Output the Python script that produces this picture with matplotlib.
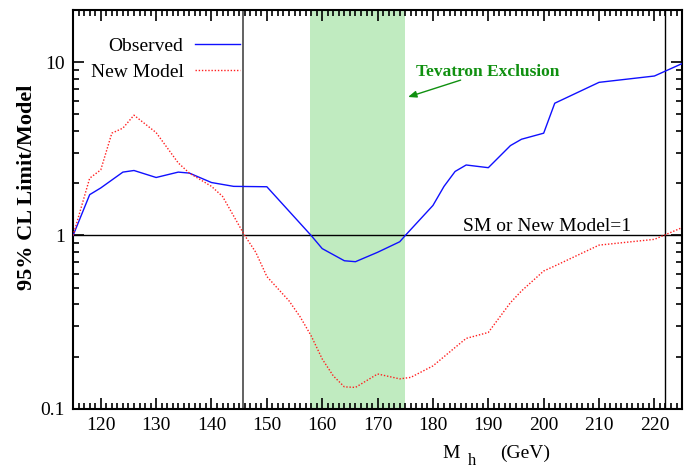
import matplotlib
matplotlib.use("Agg")
import matplotlib.pyplot as plt
from matplotlib.ticker import MultipleLocator, LogLocator, FixedLocator, FixedFormatter, NullFormatter

# observed limit / model
obs_m = [115, 118, 120, 124, 126, 130, 134, 136, 140, 144, 150, 158, 160, 164, 166, 170, 174, 175,
         180, 182, 184, 186, 190, 194, 196, 200, 202, 210, 220, 225]
obs_r = [1.0, 1.72, 1.88, 2.32, 2.37, 2.16, 2.32, 2.29, 2.02, 1.92, 1.91, 1.0, 0.84, 0.715, 0.706, 0.80, 0.92, 1.0,
         1.49, 1.92, 2.34, 2.55, 2.46, 3.30, 3.59, 3.89, 5.79, 7.64, 8.31, 9.8]
# new model
new_m = [115, 118, 120, 122, 124, 126, 130, 134, 136, 140, 142, 146, 148, 150, 154, 156, 158, 160, 162, 164, 166,
         170, 174, 176, 180, 184, 186, 190, 194, 196, 200, 202, 210, 220, 225]
new_r = [1.0, 2.14, 2.39, 3.89, 4.16, 4.94, 3.92, 2.62, 2.29, 1.92, 1.68, 1.0, 0.80, 0.58, 0.42, 0.34, 0.264, 0.194,
         0.155, 0.134, 0.133, 0.159, 0.149, 0.152, 0.177, 0.226, 0.255, 0.276, 0.41, 0.479, 0.624, 0.667, 0.88,
         0.95, 1.11]
excl = (157.8, 174.9)
cross_m = [145.7, 222.0]

plt.rcParams["font.family"] = ["Liberation Serif", "DejaVu Serif"]
fig = plt.figure(figsize=(6.96, 4.70), dpi=100)
ax = fig.add_axes([0.105, 0.130, 0.875, 0.849])

ax.axvspan(*excl, color="#c0ebc0", lw=0, zorder=0)
ax.axhline(1, color="black", lw=1, zorder=1)
ax.axvline(cross_m[0], color="#555555", lw=1.3, zorder=1)
ax.axvline(cross_m[1], color="black", lw=1, zorder=1)
l1, = ax.plot(obs_m, obs_r, color="#1010ff", lw=1.0, zorder=3)
l2, = ax.plot(new_m, new_r, color="#ff2020", lw=1.0, ls=(0, (1, 1.3)), zorder=3)

ax.set_yscale("log")
ax.set_xlim(115, 225)
ax.set_ylim(0.1, 20)
ax.xaxis.set_major_locator(MultipleLocator(10))
ax.xaxis.set_minor_locator(MultipleLocator(1))
ax.yaxis.set_major_locator(FixedLocator([0.1, 1, 10]))
ax.yaxis.set_major_formatter(FixedFormatter(["0.1", "1", "10"]))
ax.yaxis.set_minor_locator(LogLocator(base=10, subs=range(2, 10)))
ax.yaxis.set_minor_formatter(NullFormatter())
ax.tick_params(which="both", direction="in", top=True, right=True, labelsize=14, width=1.2)
ax.tick_params(which="major", length=8, pad=6)
ax.tick_params(which="minor", length=4)
for s in ax.spines.values():
    s.set_linewidth(1.5)

ax.set_ylabel("95% CL Limit/Model", fontsize=16, fontweight="bold")
ax.yaxis.set_label_coords(-0.060, 0.556)
# x label: M with lowered subscript h, then units
fig.text(451 / 696, 1 - 453 / 470, "M", fontsize=14, ha="center", va="center")
fig.text(472 / 696, 1 - 461 / 470, "h", fontsize=12, ha="center", va="center")
fig.text(525 / 696, 1 - 453 / 470, "(GeV)", fontsize=14, ha="center", va="center")

leg = ax.legend([l1, l2], ["Observed", "New Model"], loc="upper right", bbox_to_anchor=(0.274, 0.932),
                frameon=False, fontsize=14, markerfirst=False, handlelength=2.3, handletextpad=0.6,
                labelspacing=0.45, borderpad=0, borderaxespad=0)

ax.text(189.8, 8.77, "Tevatron Exclusion", color="#109010", fontsize=12.5, fontweight="bold",
        ha="center", va="center")
ax.annotate("", xy=(175.5, 6.29), xytext=(185.0, 7.87),
            arrowprops=dict(arrowstyle="-|>,head_length=0.5,head_width=0.2", color="#109010", lw=1,
                            shrinkA=0, shrinkB=0))
ax.text(200.6, 1.12, "SM or New Model=1", fontsize=14, ha="center", va="center")

fig.savefig("out.png", dpi=100)
